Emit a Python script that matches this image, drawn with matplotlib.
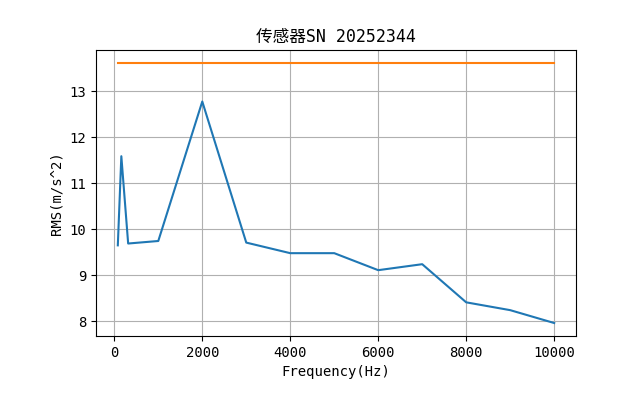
import matplotlib
matplotlib.use("Agg")
import matplotlib.pyplot as plt

# SimHei-like look: monospaced Latin, CJK fallback
plt.rcParams['font.family'] = ['DejaVu Sans Mono', 'Noto Sans CJK SC']
plt.rcParams['axes.unicode_minus'] = False

# Frequency points and measured RMS
freq = [80, 160, 315, 1000, 2000, 3000, 4000, 5000, 6000, 7000, 8000, 9000, 10000]
rms = [9.65, 11.59, 9.69, 9.745, 12.78, 9.71, 9.48, 9.48, 9.11, 9.24, 8.41, 8.24, 7.96]

# Reference level
ref_x = [80, 10000]
ref_y = [13.61, 13.61]

fig = plt.figure(figsize=(6.4, 4.2), dpi=100)
plt.subplots_adjust(left=0.15, bottom=0.2, right=0.9, top=0.88)
plt.plot(freq, rms)
plt.plot(ref_x, ref_y)

plt.xlabel("Frequency(Hz)")
plt.ylabel("RMS(m/s^2)")
plt.title("传感器SN 20252344")
plt.grid(True)

plt.savefig("out.png")
